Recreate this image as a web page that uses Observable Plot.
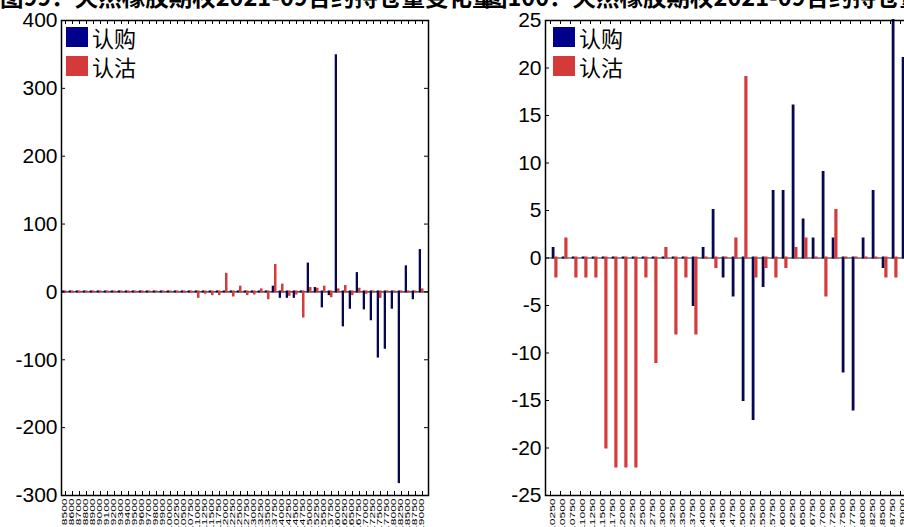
<!DOCTYPE html>
<html><head><meta charset="utf-8">
<script src="https://cdn.jsdelivr.net/npm/d3@7"></script>
<script src="https://cdn.jsdelivr.net/npm/@observablehq/plot@0.6"></script>
<style>
html,body{margin:0;padding:0;background:#fff;overflow:hidden;width:904px;height:527px;}
#root{position:relative;width:904px;height:527px;overflow:hidden;}
.title{position:absolute;top:-15px;font-family:"Noto Sans CJK SC";font-weight:bold;font-size:23.5px;line-height:1;white-space:nowrap;color:#000;}
.panel{position:absolute;top:0;}
.leg{position:absolute;font-family:"Noto Sans CJK SC";font-size:22px;line-height:1;white-space:nowrap;color:#000;}
.sw{position:absolute;width:22px;height:20px;}
</style></head><body><div id="root"></div>
<script>
const titles = ["图99：天然橡胶期权2021-09合约持仓量变化量", "图100：天然橡胶期权2021-09合约持仓量变化量"];
const seriesNames = ["认购", "认沽"];

const strikesLeft = ["8500","8600","8700","8800","8900","9000","9100","9200","9300","9400","9500","9600","9700","9800","9900",
  "10000","10250","10500","10750","11000","11250","11500","11750","12000","12250","12500","12750","13000","13250","13500","13750",
  "14000","14250","14500","14750","15000","15250","15500","15750","16000","16250","16500","16750","17000","17250","17500","17750",
  "18000","18250","18500","18750","19000"];
const callLeft = [0,0,0,0,0,0,0,0,0,0,0,0,0,0,0,
  0,0,0,0,0,0,0,0,0,0,0,0,0,0,0,7,
  -8,-8,-8,0,41,5,-22,-4,348,-50,-24,27,-25,-41,-96,-83,
  -24,-281,37,-10,61];
const putLeft = [0,0,0,0,0,0,0,0,0,0,0,0,0,0,0,
  0,0,0,0,-8,-2,-4,-4,26,-6,7,-4,-3,3,-10,39,
  10,-5,-3,-37,5,4,7,-7,3,8,-4,4,-2,0,-8,0,
  0,0,0,0,3];
const yTicksLeft = [400,300,200,100,0,-100,-200,-300];

const strikesRight = ["10250","10500","10750","11000","11250","11500","11750","12000","12250","12500","12750","13000",
  "13250","13500","13750","14000","14250","14500","14750","15000","15250","15500","15750","16000",
  "16250","16500","16750","17000","17250","17500","17750","18000","18250","18500","18750","19000"];
const callRight = [1,0,0,0,0,0,0,0,0,0,0,0,
  0,0,-5,1,5,-2,-4,-15,-17,-3,7,7,
  16,4,2,9,2,-12,-16,2,7,-1,25,21];
const putRight = [-2,2,-2,-2,-2,-20,-22,-22,-22,-2,-11,1,
  -8,-2,-8,0,-1,0,2,19,-2,-1,-2,-1,
  1,2,0,-4,5,0,0,0,0,-2,-2,0];
const yTicksRight = [25,20,15,10,5,0,-5,-10,-15,-20,-25];

const NAVY = "#08084f", RED = "#d43b3b";
const LEG_NAVY = "#00008b", LEG_RED = "#d43a3a";

const root = document.getElementById("root");

function makePanel(o) {
  const rows = o.strikes.map((s, i) => ({strike: s, call: o.calls[i], put: o.puts[i]}));
  const H = 560, mt = 20, mb = H - 495;
  const plotW = o.width - o.marginLeft - o.marginRight, plotH = H - mt - mb;
  const svg = Plot.plot({
    width: o.width, height: H,
    marginTop: mt, marginBottom: mb, marginLeft: o.marginLeft, marginRight: o.marginRight,
    style: {fontFamily: "'Liberation Sans', Arial, sans-serif", background: "transparent", color: "#000", overflow: "visible"},
    x: {type: "band", domain: o.strikes, range: o.xRange, paddingInner: 0, paddingOuter: 0, round: false},
    y: {domain: o.yDomain},
    marks: [
      Plot.ruleY([0], {stroke: "#222", strokeWidth: 1.2}),
      Plot.barY(rows, {x: "strike", y: "call", fill: NAVY, insetLeft: o.callInset[0], insetRight: o.callInset[1], insetTop: -1, insetBottom: -1}),
      Plot.barY(rows, {x: "strike", y: "put", fill: RED, insetLeft: o.putInset[0], insetRight: o.putInset[1], insetTop: -1, insetBottom: -1}),
      Plot.frame({stroke: "#000", strokeWidth: 1.5}),
      Plot.tickX(o.strikes, {x: d => d, insetTop: plotH - 4, stroke: "#000", dx: o.tickDx}),
      Plot.tickX(o.strikes, {x: d => d, insetBottom: plotH - 4, stroke: "#000", dx: o.tickDx}),
      Plot.tickY(o.yTicks, {y: d => d, insetRight: plotW - 4, stroke: "#000"}),
      Plot.tickY(o.yTicks, {y: d => d, insetLeft: plotW - 4, stroke: "#000"}),
      Plot.axisY(o.yTicks, {anchor: "left", tickSize: 0, tickPadding: 4, fontSize: 21, tickFormat: d => String(d), label: null}),
      Plot.axisX(o.strikes, {anchor: "bottom", tickSize: 0, tickPadding: 3, tickRotate: -90, fontSize: 12, label: null})
    ]
  });
  // narrow the rotated strike labels (condensed look of the original)
  svg.querySelectorAll('g[aria-label="x-axis tick label"] text').forEach(t => {
    const tr = t.getAttribute("transform") || "";
    t.setAttribute("transform", tr + " scale(1,0.6)");
  });
  svg.classList.add("panel");
  svg.style.left = o.left + "px";
  root.appendChild(svg);

  const t = document.createElement("div");
  t.className = "title";
  t.style.left = o.titleX + "px";
  t.textContent = o.title;
  root.appendChild(t);

  const colors = [LEG_NAVY, LEG_RED];
  seriesNames.forEach((name, i) => {
    const sw = document.createElement("div");
    sw.className = "sw";
    sw.style.left = o.legX + "px";
    sw.style.top = (27 + i * 29) + "px";
    sw.style.background = colors[i];
    root.appendChild(sw);
    const lt = document.createElement("div");
    lt.className = "leg";
    lt.style.left = (o.legX + 26) + "px";
    lt.style.top = (26 + i * 29) + "px";
    lt.textContent = name;
    root.appendChild(lt);
  });
}

makePanel({
  strikes: strikesLeft, calls: callLeft, puts: putLeft,
  yDomain: [-300, 400], yTicks: yTicksLeft,
  left: 0, width: 452, marginLeft: 61, marginRight: 24, xRange: [61, 425],
  callInset: [0.7, 4.0], putInset: [3.0, 1.5], tickDx: 0.5,
  title: titles[0], titleX: 0, legX: 66
});
makePanel({
  strikes: strikesRight, calls: callRight, puts: putRight,
  yDomain: [-25, 25], yTicks: yTicksRight,
  left: 452, width: 470, marginLeft: 93, marginRight: 10, xRange: [95.5, 455.5],
  callInset: [4.2, 3.0], putInset: [6.8, 0], tickDx: -2.5,
  title: titles[1], titleX: 484, legX: 553
});
</script></body></html>
